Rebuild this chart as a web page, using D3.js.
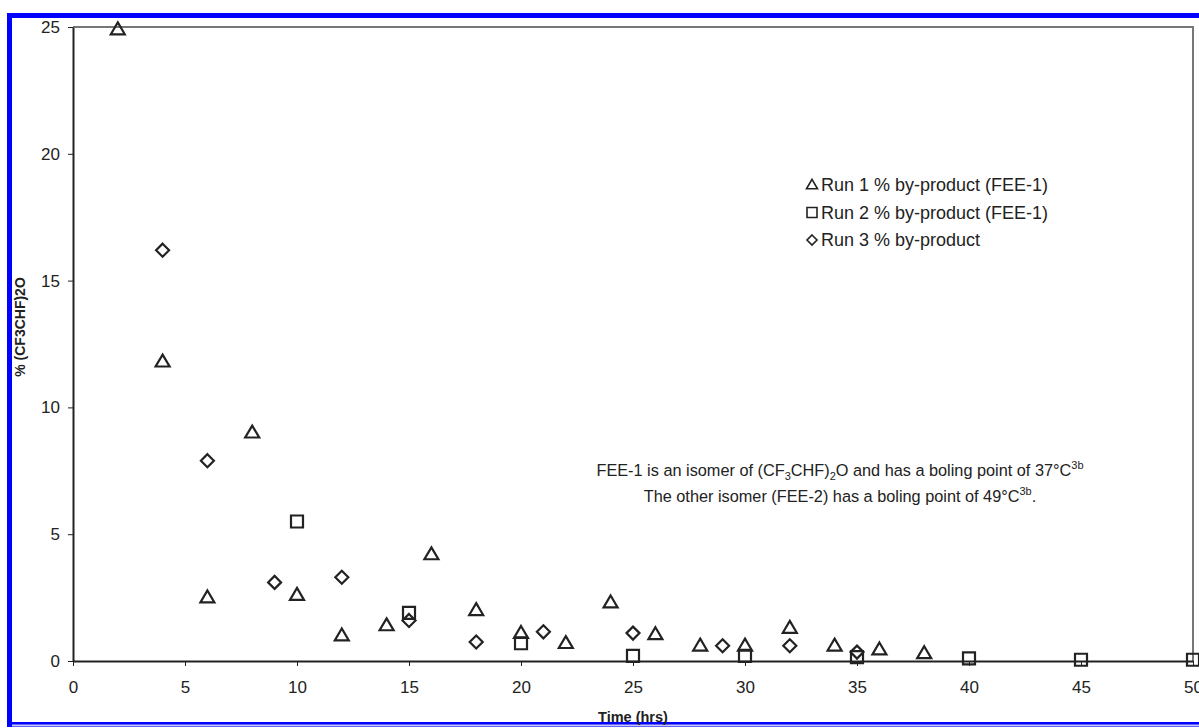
<!DOCTYPE html>
<html lang="en">
<head>
    <meta charset="UTF-8">
    <title>By-product vs time</title>
</head>
<style>
    body { margin: 0; background: #fff; }
    text { font-family: "Liberation Sans", Arial, sans-serif; fill: #222; }
    .axis path, .axis line { stroke: #222; }
    .axis text { font-size: 17px; }
</style>
<body>
<script src='https://d3js.org/d3.v7.min.js'></script>
<script>
    const width = 1199, height = 728;
    const margin = {left: 73, right: 6, top: 27, bottom: 67};

    // Run 1 % by-product (FEE-1)
    const run1Time = [2, 4, 6, 8, 10, 12, 14, 16, 18, 20, 22, 24, 26, 28, 30, 32, 34, 36, 38];
    const run1Pct = [24.9, 11.8, 2.5, 9.0, 2.6, 1.0, 1.4, 4.2, 2.0, 1.1, 0.7, 2.3, 1.05, 0.6, 0.6, 1.3, 0.6, 0.45, 0.3];
    // Run 2 % by-product (FEE-1)
    const run2Time = [10, 15, 20, 25, 30, 35, 40, 45, 50];
    const run2Pct = [5.5, 1.9, 0.7, 0.2, 0.2, 0.15, 0.1, 0.05, 0.05];
    // Run 3 % by-product
    const run3Time = [4, 6, 9, 12, 15, 18, 21, 25, 29, 32, 35];
    const run3Pct = [16.2, 7.9, 3.1, 3.3, 1.6, 0.75, 1.15, 1.1, 0.6, 0.6, 0.35];

    const xTicks = [0, 5, 10, 15, 20, 25, 30, 35, 40, 45, 50];
    const yTicks = [0, 5, 10, 15, 20, 25];
    const legendLabels = ["Run 1 % by-product (FEE-1)", "Run 2 % by-product (FEE-1)", "Run 3 % by-product"];

    const svg = d3.select("body").append("svg")
        .attr("width", width)
        .attr("height", height);

    // blue frame
    svg.append("rect")
        .attr("x", 9.5).attr("y", 15.5)
        .attr("width", 1200).attr("height", 709)
        .attr("fill", "none")
        .attr("stroke", "#0000ff")
        .attr("stroke-width", 5);
    svg.append("line")
        .attr("x1", 12).attr("x2", width)
        .attr("y1", 725.5).attr("y2", 725.5)
        .attr("stroke", "#c8c8f8").attr("stroke-width", 2);

    const x = d3.scaleLinear().domain([0, 50]).range([margin.left, width - margin.right]);
    const y = d3.scaleLinear().domain([0, 25]).range([height - margin.bottom, margin.top]);

    // plot frame (top and right in grey)
    svg.append("path")
        .attr("d", `M${x(0)},${y(25)}H${x(50)}V${y(0)}`)
        .attr("fill", "none")
        .attr("stroke", "#777")
        .attr("stroke-width", 2);

    svg.append("g")
        .attr("class", "axis")
        .attr("transform", `translate(0,${y(0)})`)
        .call(d3.axisBottom(x).tickValues(xTicks).tickSize(5).tickSizeOuter(0).tickPadding(15))
        .call(g => g.select(".domain").attr("stroke-width", 2));

    svg.append("g")
        .attr("class", "axis")
        .attr("transform", `translate(${x(0)},0)`)
        .call(d3.axisLeft(y).tickValues(yTicks).tickSize(5).tickSizeOuter(0).tickPadding(8))
        .call(g => g.select(".domain").attr("stroke-width", 2));

    svg.selectAll(".axis .tick line").attr("stroke", "#888");

    // axis titles
    svg.append("text")
        .attr("x", x(25)).attr("y", 722)
        .attr("text-anchor", "middle")
        .attr("font-size", 14.5).attr("font-weight", "bold")
        .text("Time (hrs)");

    svg.append("text")
        .attr("transform", "translate(25,327) rotate(-90)")
        .attr("text-anchor", "middle")
        .attr("font-size", 14).attr("font-weight", "bold")
        .text("% (CF3CHF)2O");

    function drawTri(s) {
        const h = s * 0.85;
        return `M0,${-h * 0.6}L${s / 2},${h * 0.4}L${-s / 2},${h * 0.4}Z`;
    }
    function drawSq(s) {
        return `M${-s / 2},${-s / 2}h${s}v${s}h${-s}Z`;
    }
    function drawDia(s) {
        const r = s / 2;
        return `M0,${-r}L${r},0L0,${r}L${-r},0Z`;
    }

    const marks = svg.append("g")
        .attr("fill", "none")
        .attr("stroke", "#222")
        .attr("stroke-width", 2.2);

    marks.selectAll("path.run3")
        .data(run3Time.map((t, i) => [t, run3Pct[i]]))
        .join("path")
        .attr("class", "run3")
        .attr("transform", d => `translate(${x(d[0])},${y(d[1])})`)
        .attr("d", drawDia(13));

    marks.selectAll("path.run2")
        .data(run2Time.map((t, i) => [t, run2Pct[i]]))
        .join("path")
        .attr("class", "run2")
        .attr("transform", d => `translate(${x(d[0])},${y(d[1])})`)
        .attr("d", drawSq(12));

    marks.selectAll("path.run1")
        .data(run1Time.map((t, i) => [t, run1Pct[i]]))
        .join("path")
        .attr("class", "run1")
        .attr("transform", d => `translate(${x(d[0])},${y(d[1])})`)
        .attr("d", drawTri(14));

    // legend
    const legend = svg.append("g").attr("transform", "translate(812,185)");
    const legendShapes = [drawTri(11), drawSq(10), drawDia(10)];
    legendLabels.forEach(function (lab, i) {
        const row = legend.append("g").attr("transform", `translate(0,${i * 27.5})`);
        row.append("path")
            .attr("d", legendShapes[i])
            .attr("fill", "none")
            .attr("stroke", "#222")
            .attr("stroke-width", 1.6);
        row.append("text")
            .attr("x", 9).attr("y", 6)
            .attr("font-size", 18)
            .text(lab);
    });

    // annotation
    const note = svg.append("g").attr("font-size", 16.3);
    const l1 = note.append("text")
        .attr("x", 840).attr("y", 476)
        .attr("text-anchor", "middle");
    l1.append("tspan").text("FEE-1 is an isomer of (CF");
    l1.append("tspan").attr("font-size", 11).attr("dy", 4).text("3");
    l1.append("tspan").attr("dy", -4).text("CHF)");
    l1.append("tspan").attr("font-size", 11).attr("dy", 4).text("2");
    l1.append("tspan").attr("dy", -4).text("O and has a boling point of 37°C");
    l1.append("tspan").attr("font-size", 11).attr("dy", -7).text("3b");

    const l2 = note.append("text")
        .attr("x", 840).attr("y", 502)
        .attr("text-anchor", "middle");
    l2.append("tspan").text("The other isomer (FEE-2) has a boling point of 49°C");
    l2.append("tspan").attr("font-size", 11).attr("dy", -7).text("3b");
    l2.append("tspan").attr("dy", 7).text(".");
</script>
</body>
</html>
